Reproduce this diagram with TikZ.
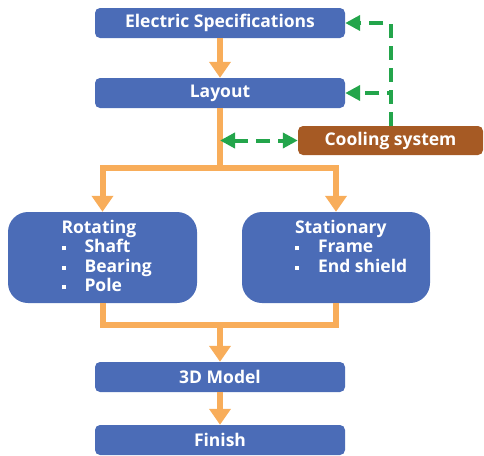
\documentclass[tikz,border=0pt]{standalone}
\usepackage{fontspec}
\setmainfont{Open Sans}
\usetikzlibrary{arrows.meta}
\definecolor{boxBlue}{RGB}{75,108,183}
\definecolor{coolBrown}{RGB}{166,90,36}
\definecolor{flowOrange}{RGB}{248,173,90}
\definecolor{loopGreen}{RGB}{35,165,75}
\newcommand{\sqbullet}{\makebox[23pt][l]{\rule[0.25ex]{4pt}{4pt}}}
\newcommand{\partlist}[1]{\parbox[c][76pt][t]{82pt}{\begin{tabular}{@{}l@{}}#1\end{tabular}}}

\begin{document}
\begin{tikzpicture}[
    x=1pt,y=-1pt,
    font=\fontsize{17.5}{19.5}\selectfont\bfseries,
    stepbox/.style={rounded corners=5pt,fill=boxBlue,text=white,minimum width=250pt,minimum height=30pt,inner sep=0pt},
    partbox/.style={rounded corners=20pt,fill=boxBlue,text=white,minimum width=189pt,minimum height=91pt,inner sep=0pt},
    flow/.style={line width=6pt,flowOrange},
    flowarr/.style={flow,-{Triangle[length=16pt,width=21pt]}},
    coolarr/.style={line width=4pt,loopGreen,dash pattern=on 14pt off 8pt,-{Triangle[length=15pt,width=15pt]}}
  ]
    \useasboundingbox (0,0) rectangle (484,455);
    \node[stepbox] (spec) at (220,23) {Electric Specifications};
    \node[stepbox] (lay) at (220,93) {Layout};
    \node[stepbox,fill=coolBrown,minimum width=185pt,minimum height=29pt] (cool) at (390.5,140.5) {Cooling system};
    \node[partbox] (rot) at (102.5,257.5) {\partlist{Rotating\\\sqbullet Shaft\\\sqbullet Bearing\\\sqbullet Pole}};
    \node[partbox,minimum width=188pt] (stat) at (336,257.5) {\partlist{Stationary\\\sqbullet Frame\\\sqbullet End shield}};
    \node[stepbox] (model) at (220,377) {3D Model};
    \node[stepbox] (fin) at (220,440) {Finish};

    % orange flow
    \coordinate (split) at (lay.south |- 0,168);
    \coordinate (merge) at (model.north |- 0,325);
    \draw[flowarr] (spec) -- (lay);
    \draw[flow] (lay.south) -- (split);
    \draw[flowarr] (split) -| (rot.north);
    \draw[flowarr] (split) -| (stat.north);
    \draw[flow] (rot.south) |- (merge) -| (stat.south);
    \draw[flowarr] (merge) -- (model.north);
    \draw[flowarr] (model) -- (fin);

    % cooling feedback
    \draw[coolarr] (cool.north) |- (spec.east);
    \draw[coolarr] (cool.north) |- (lay.east);
    \draw[coolarr,{Triangle[length=15pt,width=15pt]}-{Triangle[length=15pt,width=15pt]}] (cool.west -| lay.south) -- (cool.west);
  \end{tikzpicture}
\end{document}
